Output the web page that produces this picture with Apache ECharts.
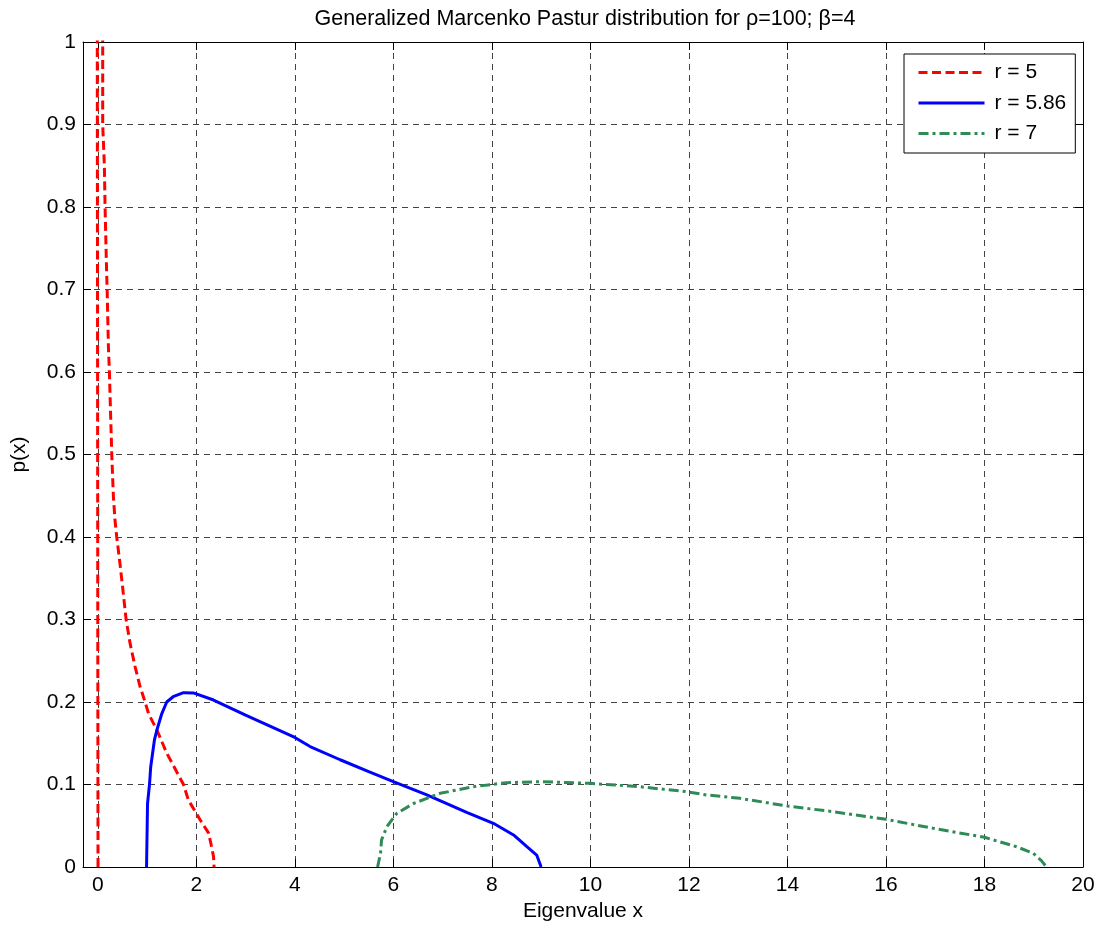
<!DOCTYPE html>
<html>
<head>
<meta charset="utf-8">
<script src="https://cdn.jsdelivr.net/npm/echarts@6/dist/echarts.min.js"></script>
<style>html,body{margin:0;padding:0;background:#fff}#c{width:1100px;height:927px}</style>
</head>
<body>
<div id="c"></div>
<script>
// ---- data ----
const titleText = 'Generalized Marcenko Pastur distribution for \u03c1=100; \u03b2=4';
const xName = 'Eigenvalue x';
const yName = 'p(x)';
const xTicks = [0, 2, 4, 6, 8, 10, 12, 14, 16, 18, 20];
const seriesNames = ['r = 5', 'r = 5.86', 'r = 7'];

const r5 = [[0.005,0],[0.0,0.3],[-0.005,0.7],[-0.01,1.0],[-0.005,1.2],[0.05,1.25],[0.09,1.1],[0.10,1.0],[0.10,0.9],[0.134,0.85],[0.148,0.8],[0.18,0.72],[0.19,0.7],[0.216,0.63],[0.236,0.6],[0.25,0.57],[0.284,0.5],[0.317,0.449],[0.35,0.42],[0.385,0.4],[0.45,0.368],[0.51,0.336],[0.575,0.3],[0.656,0.271],[0.757,0.243],[0.859,0.2185],[0.96,0.2],[1.03,0.186],[1.2,0.166],[1.4,0.138],[1.74,0.1],[1.84,0.081],[2.08,0.057],[2.25,0.041],[2.31,0.0246],[2.35,0.0125],[2.36,0]];

const r586 = [[0.99,0],[1.01,0.077],[1.05,0.1],[1.075,0.1216],[1.15,0.154],[1.2,0.166],[1.3,0.186],[1.4,0.2],[1.53,0.2064],[1.74,0.2113],[1.94,0.211],[2.35,0.2024],[3.0,0.184],[4.0,0.157],[4.31,0.146],[4.92,0.13],[5.5,0.1155],[6.0,0.1034],[6.68,0.0873],[7.5,0.066],[8.03,0.053],[8.44,0.0388],[8.71,0.0246],[8.91,0.0145],[9.0,0]];

const r7 = [[5.68,0],[5.74,0.0166],[5.76,0.0327],[5.87,0.049],[6.07,0.065],[6.41,0.077],[6.95,0.0893],[7.62,0.0973],[8.3,0.1022],[8.98,0.1034],[10.0,0.1014],[11.0,0.0973],[11.95,0.0913],[12.36,0.0873],[13.04,0.0832],[14.0,0.0739],[14.93,0.067],[16.0,0.0578],[16.96,0.0469],[18.0,0.036],[18.65,0.0246],[18.99,0.0166],[19.15,0.008],[19.26,0]];

const FONT = "'Liberation Sans', Arial, Helvetica, sans-serif";
const FS = 21;
const gridLine = { show: true, lineStyle: { color: '#444', width: 1, type: [6, 5] } };

const chart = echarts.init(document.getElementById('c'), null, { renderer: 'canvas' });
chart.setOption({
  animation: false,
  backgroundColor: '#fff',
  textStyle: { fontFamily: FONT },
  title: {
    text: titleText,
    left: 580,
    textAlign: 'center',
    top: 3,
    textStyle: { fontFamily: FONT, fontSize: 21.5, fontWeight: 'normal', color: '#000' }
  },
  grid: { left: 83, top: 42, right: 17, bottom: 60, containLabel: false },
  legend: {
    data: seriesNames,
    orient: 'vertical',
    left: 904,
    top: 54,
    padding: [8, 9, 9, 13],
    itemWidth: 66,
    itemHeight: 14,
    itemGap: 9.5,
    backgroundColor: '#fff',
    borderColor: '#000',
    borderWidth: 1,
    borderRadius: 0,
    itemStyle: { opacity: 0 },
    lineStyle: { width: 3 },
    textStyle: { fontFamily: FONT, fontSize: FS, color: '#000', padding: [0, 0, 0, 5] }
  },
  xAxis: [{
    type: 'value', min: -0.3, max: 20,
    name: xName, nameLocation: 'middle', nameGap: 34,
    nameTextStyle: { fontFamily: FONT, fontSize: FS, color: '#000' },
    axisLine: { show: true, onZero: false, lineStyle: { color: '#000', width: 1 } },
    axisTick: { show: true, inside: true, length: 8, customValues: xTicks, lineStyle: { color: '#000' } },
    axisLabel: { show: true, customValues: xTicks, margin: 8, fontFamily: FONT, fontSize: FS, color: '#000' },
    splitLine: gridLine
  }, {
    type: 'value', min: -0.3, max: 20, position: 'top',
    axisLine: { show: true, onZero: false, lineStyle: { color: '#000', width: 1 } },
    axisTick: { show: true, inside: true, length: 8, customValues: xTicks, lineStyle: { color: '#000' } },
    axisLabel: { show: false },
    splitLine: { show: false }
  }],
  yAxis: [{
    type: 'value', min: 0, max: 1, interval: 0.1,
    name: yName, nameLocation: 'middle', nameGap: 53,
    nameTextStyle: { fontFamily: FONT, fontSize: FS, color: '#000' },
    axisLine: { show: true, onZero: false, lineStyle: { color: '#000', width: 1 } },
    axisTick: { show: true, inside: true, length: 8, lineStyle: { color: '#000' } },
    axisLabel: { show: true, margin: 7, fontFamily: FONT, fontSize: FS, color: '#000' },
    splitLine: gridLine
  }, {
    type: 'value', min: 0, max: 1, interval: 0.1, position: 'right',
    axisLine: { show: true, onZero: false, lineStyle: { color: '#000', width: 1 } },
    axisTick: { show: true, inside: true, length: 8, lineStyle: { color: '#000' } },
    axisLabel: { show: false },
    splitLine: { show: false }
  }],
  series: [
    { name: seriesNames[0], type: 'line', data: r5, symbol: 'none', clip: true,
      lineStyle: { color: '#ff0000', width: 3, type: [9, 4.5], cap: 'butt' }, itemStyle: { color: '#ff0000' } },
    { name: seriesNames[1], type: 'line', data: r586, symbol: 'none', clip: true,
      lineStyle: { color: '#0000ff', width: 3, type: 'solid' }, itemStyle: { color: '#0000ff' } },
    { name: seriesNames[2], type: 'line', data: r7, symbol: 'none', clip: true,
      lineStyle: { color: '#2e8b57', width: 3, type: [10, 4, 3, 4], cap: 'butt' }, itemStyle: { color: '#2e8b57' } }
  ]
});
</script>
</body>
</html>
